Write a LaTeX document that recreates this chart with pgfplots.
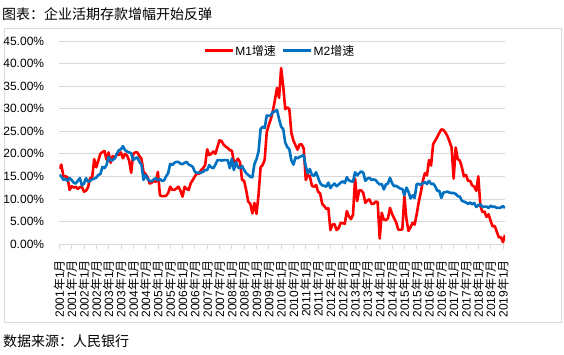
\documentclass[border=0pt]{standalone}
\usepackage{fontspec}
\setmainfont{Liberation Sans}
\newfontfamily\cjk{Noto Sans CJK SC}
\usepackage{pgfplots}
\pgfplotsset{compat=1.18}
\usepackage{pgfplotstable}
\definecolor{mred}{HTML}{FF0000}
\definecolor{mblue}{HTML}{0070C0}
\definecolor{gridc}{HTML}{D9D9D9}
\newcommand{\ym}[2]{#1{\cjk 年}#2{\cjk 月}}
\pgfplotstableread{
m m1 m2
0 16.7 15.3
1 17.6 15.0
2 15.0 14.2
3 15.0 14.4
4 14.8 14.0
5 12.0 14.6
6 12.8 14.2
7 12.5 13.6
8 12.7 13.4
9 12.2 14.0
10 12.6 14.6
11 12.7 13.0
12 11.6 13.4
13 11.8 14.6
14 12.6 13.8
15 14.6 14.0
16 14.8 14.3
17 18.8 14.5
18 17.0 14.7
19 18.5 15.3
20 20.0 15.5
21 20.4 17.1
22 20.6 16.8
23 18.7 17.5
24 20.3 19.3
25 18.0 18.5
26 19.5 18.6
27 19.0 19.0
28 20.0 20.0
29 19.7 20.8
30 20.3 21.0
31 19.0 21.7
32 20.0 20.8
33 19.6 20.5
34 18.5 20.3
35 15.8 20.1
36 20.0 18.6
37 20.3 19.0
38 20.3 19.2
39 19.5 18.2
40 18.9 17.6
41 16.0 14.2
42 15.5 15.3
43 14.8 14.4
44 13.4 14.0
45 13.6 13.9
46 14.0 14.3
47 13.8 14.6
48 16.0 14.1
49 10.8 14.4
50 10.6 14.0
51 10.6 14.1
52 10.7 15.0
53 11.3 15.7
54 12.7 17.8
55 12.0 17.5
56 12.0 18.0
57 12.3 18.2
58 12.7 18.2
59 11.8 17.8
60 10.5 17.7
61 12.7 18.0
62 12.2 18.2
63 12.0 17.6
64 13.5 17.4
65 14.2 17.1
66 15.0 16.0
67 15.7 15.8
68 15.5 15.8
69 16.4 15.8
70 16.8 16.0
71 17.5 16.4
72 21.0 16.4
73 19.7 17.5
74 20.0 17.0
75 20.5 16.8
76 20.0 17.6
77 21.5 18.6
78 23.0 18.6
79 22.8 18.5
80 22.0 18.6
81 21.6 18.6
82 21.3 18.6
83 20.8 16.8
84 20.7 18.9
85 18.2 16.4
86 18.3 18.2
87 18.9 17.0
88 18.1 16.8
89 14.2 17.3
90 14.0 16.4
91 11.9 15.7
92 9.4 15.3
93 8.9 14.9
94 6.8 14.8
95 9.1 17.7
96 6.7 18.8
97 10.9 20.5
98 17.0 25.5
99 17.5 26.0
100 18.7 25.7
101 24.8 28.5
102 26.4 28.4
103 27.7 28.5
104 29.5 29.3
105 32.0 29.4
106 34.6 29.7
107 32.4 27.7
108 39.0 26.0
109 35.0 25.5
110 29.9 22.5
111 30.3 21.5
112 29.9 21.0
113 24.6 18.5
114 22.9 17.6
115 21.9 19.2
116 20.9 19.0
117 22.1 19.3
118 22.1 19.5
119 21.2 19.7
120 14.2 17.2
121 15.3 15.7
122 15.0 16.6
123 12.9 15.3
124 12.7 15.1
125 13.1 15.9
126 11.6 14.7
127 11.2 13.5
128 8.9 13.0
129 8.4 12.9
130 7.8 12.7
131 7.9 13.6
132 3.1 12.4
133 4.3 13.0
134 4.4 13.4
135 3.1 12.8
136 3.5 13.2
137 4.7 13.6
138 4.6 13.9
139 4.5 13.5
140 7.3 14.8
141 6.1 14.1
142 5.5 13.9
143 6.5 13.8
144 14.5 15.9
145 9.5 15.2
146 11.9 15.7
147 11.9 16.1
148 11.3 15.8
149 9.1 14.0
150 9.7 14.5
151 9.9 14.7
152 8.9 14.2
153 8.9 14.3
154 9.4 14.2
155 9.3 13.6
156 1.2 13.2
157 6.9 13.3
158 5.4 12.1
159 5.3 13.2
160 5.7 13.4
161 8.0 14.7
162 6.7 13.5
163 5.7 12.8
164 4.8 12.9
165 3.2 12.6
166 3.2 12.3
167 3.2 12.2
168 10.6 10.8
169 5.6 12.5
170 2.9 11.6
171 3.7 10.1
172 4.7 10.8
173 4.3 10.2
174 6.6 13.3
175 9.3 13.3
176 11.4 13.1
177 14.0 13.5
178 15.7 13.7
179 15.2 13.3
180 18.6 14.0
181 17.4 13.3
182 22.1 13.4
183 22.9 12.8
184 23.7 11.8
185 24.6 11.8
186 25.4 10.2
187 25.3 11.4
188 24.7 11.5
189 23.9 11.6
190 22.7 11.4
191 21.4 11.3
192 14.5 11.3
193 21.4 11.1
194 18.8 10.6
195 18.5 10.5
196 17.0 9.6
197 15.0 9.4
198 15.3 9.2
199 14.0 8.9
200 14.0 9.2
201 13.0 8.8
202 12.7 9.1
203 11.8 8.2
204 15.0 8.6
205 8.5 8.8
206 7.1 8.2
207 7.2 8.3
208 6.0 8.3
209 6.6 8.0
210 5.1 8.5
211 3.9 8.2
212 4.0 8.3
213 2.7 8.0
214 1.5 8.0
215 1.5 8.1
216 0.4 8.4
217 2.0 8.0
}\datatable
\begin{document}
\begin{tikzpicture}
\path[use as bounding box] (-59.3pt,-110pt) rectangle (504.7pt,244pt);
\draw[gridc, line width=0.75pt] (-55.3pt,-78pt) rectangle (501.7pt,216pt);
\node[anchor=west, inner sep=0pt, font=\fontsize{14}{16}\selectfont\cjk] at (-57.3pt,230pt) {图表：企业活期存款增幅开始反弹};
\node[anchor=west, inner sep=0pt, font=\fontsize{14}{16}\selectfont\cjk] at (-56.3pt,-97pt) {数据来源：人民银行};
\begin{axis}[
  at={(0pt,0pt)}, anchor=south west,
  scale only axis, width=445.7pt, height=203pt,
  xmin=0, xmax=217, ymin=0, ymax=45,
  axis x line*=bottom, axis y line*=left,
  x axis line style={draw=gridc, line width=0.75pt, -},
  y axis line style={draw=none},
  ymajorgrids, grid style={draw=gridc, line width=0.75pt},
  ytick={0,5,...,45},
  yticklabel={\pgfmathprintnumber[fixed,fixed zerofill,precision=2,assume math mode=true]{\tick}\%},
  yticklabel style={font=\fontsize{12}{14}\selectfont, anchor=east, inner sep=0pt, xshift=-10pt},
  ytick style={draw=none},
  xtick={0,6,...,216},
  tick align=outside,
  xtick style={draw=gridc, line width=0.75pt},
  major tick length=5pt,
  xticklabels={\ym{2001}{1},\ym{2001}{7},\ym{2002}{1},\ym{2002}{7},\ym{2003}{1},\ym{2003}{7},\ym{2004}{1},\ym{2004}{7},\ym{2005}{1},\ym{2005}{7},\ym{2006}{1},\ym{2006}{7},\ym{2007}{1},\ym{2007}{7},\ym{2008}{1},\ym{2008}{7},\ym{2009}{1},\ym{2009}{7},\ym{2010}{1},\ym{2010}{7},\ym{2011}{1},\ym{2011}{7},\ym{2012}{1},\ym{2012}{7},\ym{2013}{1},\ym{2013}{7},\ym{2014}{1},\ym{2014}{7},\ym{2015}{1},\ym{2015}{7},\ym{2016}{1},\ym{2016}{7},\ym{2017}{1},\ym{2017}{7},\ym{2018}{1},\ym{2018}{7},\ym{2019}{1}},
  xticklabel style={font=\fontsize{12}{14}\selectfont, yshift=-11pt, rotate=90, anchor=east, inner sep=0pt},
  legend columns=2,
  legend style={at={(0.494,0.952)}, anchor=center, draw=none, fill=none, inner sep=0pt,
    font=\fontsize{12}{14}\selectfont, /tikz/every even column/.append style={column sep=4pt},
    nodes={inner sep=1.5pt}},
  legend image code/.code={\draw[#1] (0pt,0pt) -- (28pt,0pt);},
]
\addplot[mred, line width=2.6pt, line join=round] table[x=m, y=m1] {\datatable};
\addlegendentry{M1{\cjk 增速}}
\addplot[mblue, line width=2.6pt, line join=round] table[x=m, y=m2] {\datatable};
\addlegendentry{M2{\cjk 增速}}
\end{axis}
\end{tikzpicture}
\end{document}
